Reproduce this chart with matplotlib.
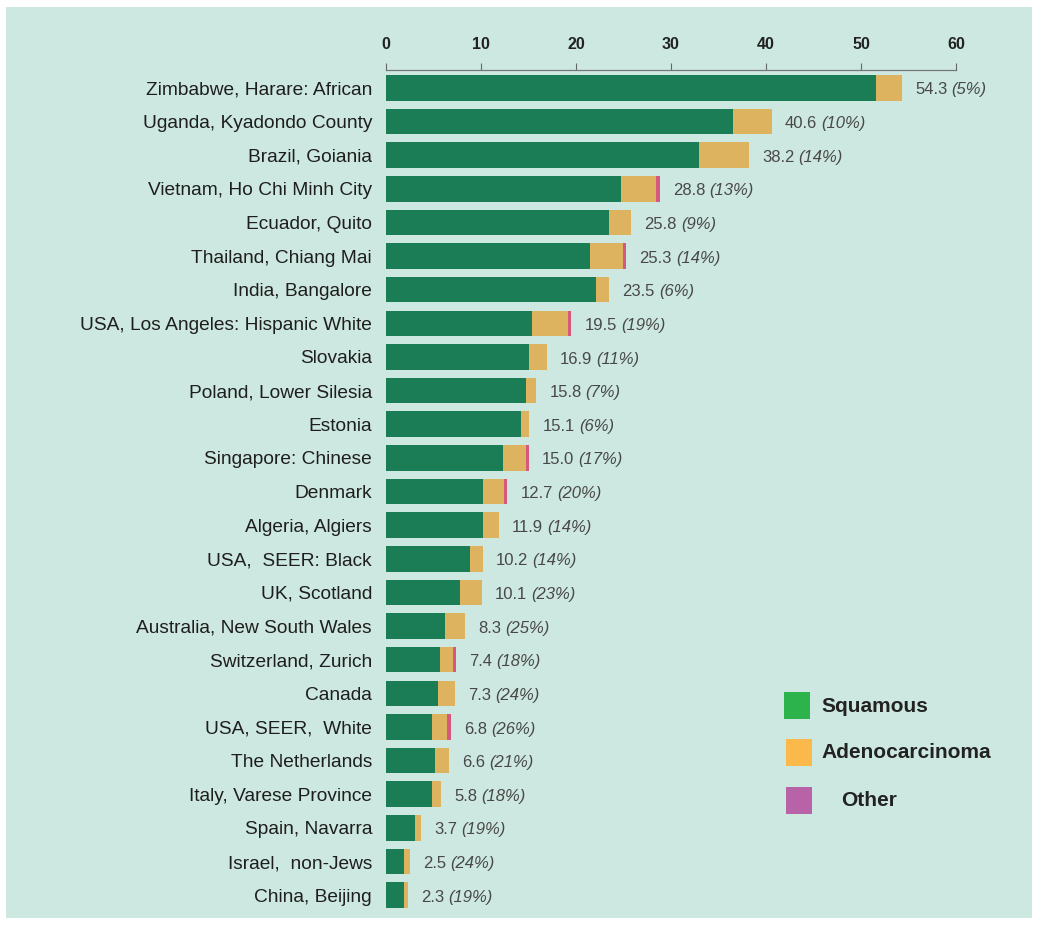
import matplotlib
matplotlib.use("Agg")
import matplotlib.pyplot as plt
from matplotlib import font_manager
from matplotlib.patches import Rectangle

# registries, top to bottom
registries = [
    "Zimbabwe, Harare: African", "Uganda, Kyadondo County", "Brazil, Goiania",
    "Vietnam, Ho Chi Minh City", "Ecuador, Quito", "Thailand, Chiang Mai",
    "India, Bangalore", "USA, Los Angeles: Hispanic White", "Slovakia",
    "Poland, Lower Silesia", "Estonia", "Singapore: Chinese", "Denmark",
    "Algeria, Algiers", "USA,  SEER: Black", "UK, Scotland",
    "Australia, New South Wales", "Switzerland, Zurich", "Canada",
    "USA, SEER,  White", "The Netherlands", "Italy, Varese Province",
    "Spain, Navarra", "Israel,  non-Jews", "China, Beijing",
]
squamous = [51.6, 36.5, 32.9, 24.7, 23.5, 21.5, 22.1, 15.4, 15.0, 14.7, 14.2,
            12.3, 10.2, 10.2, 8.8, 7.8, 6.2, 5.7, 5.5, 4.8, 5.2, 4.8, 3.0, 1.9, 1.9]
adeno = [2.7, 4.1, 5.3, 3.7, 2.3, 3.4, 1.4, 3.8, 1.9, 1.1, 0.9,
         2.4, 2.2, 1.7, 1.4, 2.3, 2.1, 1.3, 1.8, 1.6, 1.4, 1.0, 0.7, 0.6, 0.4]
other = [0, 0, 0, 0.4, 0, 0.4, 0, 0.3, 0, 0, 0,
         0.3, 0.35, 0, 0, 0, 0, 0.4, 0, 0.4, 0, 0, 0, 0, 0]
totals = ["54.3", "40.6", "38.2", "28.8", "25.8", "25.3", "23.5", "19.5", "16.9",
          "15.8", "15.1", "15.0", "12.7", "11.9", "10.2", "10.1", "8.3", "7.4",
          "7.3", "6.8", "6.6", "5.8", "3.7", "2.5", "2.3"]
adeno_pct = ["5%", "10%", "14%", "13%", "9%", "14%", "6%", "19%", "11%", "7%",
             "6%", "17%", "20%", "14%", "14%", "23%", "25%", "18%", "24%",
             "26%", "21%", "18%", "19%", "24%", "19%"]
legend_labels = ["Squamous", "Adenocarcinoma", "Other"]
xticks = [0, 10, 20, 30, 40, 50, 60]

BG = "#cde8e0"
bar_colors = ["#1b7d56", "#deb35f", "#d6587c"]
legend_colors = ["#2db34b", "#fbb94b", "#b862a8"]

names = {f.name for f in font_manager.fontManager.ttflist}
FONT = "Liberation Sans" if "Liberation Sans" in names else "DejaVu Sans"
plt.rcParams["font.family"] = [FONT, "DejaVu Sans"]

fig = plt.figure(figsize=(10.4, 9.25), dpi=100)
fig.patch.set_facecolor("white")
fig.patches.append(Rectangle((6 / 1040, 7 / 925), 1026 / 1040, 911 / 925,
                             transform=fig.transFigure, facecolor=BG,
                             edgecolor="none", zorder=-5))

ax = fig.add_axes([386 / 1040, 13 / 925, 570 / 1040, 842 / 925])
ax.set_zorder(2)
ax.patch.set_alpha(0)

y = list(range(len(registries)))
left2 = [s + a for s, a in zip(squamous, adeno)]
ax.barh(y, squamous, height=0.76, color=bar_colors[0], zorder=2)
ax.barh(y, adeno, left=squamous, height=0.76, color=bar_colors[1], zorder=2)
ax.barh(y, other, left=left2, height=0.76, color=bar_colors[2], zorder=2)

# value label: total, then the adenocarcinoma share in italics
for i in y:
    end = left2[i] + other[i]
    num = ax.annotate(totals[i], (end, i), xytext=(9.5, -1.5), textcoords="offset points",
                      va="center", ha="left", fontsize=12, color="#484848")
    ax.annotate("(" + adeno_pct[i] + ")", xy=(1, 0.5), xycoords=num,
                xytext=(3, 0), textcoords="offset points", va="center", ha="left",
                fontsize=12, color="#484848", style="italic")

ax.set_xlim(0, 60)
ax.set_ylim(24.5, -0.53)
ax.set_xticks(xticks)
ax.xaxis.tick_top()
ax.tick_params(axis="x", direction="out", length=5, width=0.8, color="#666666",
               labelsize=11.5, pad=8, labelcolor="#222222")
for lab in ax.get_xticklabels():
    lab.set_fontweight("bold")
ax.set_yticks(y)
ax.set_yticklabels(registries, fontsize=13.8, color="#1e1e1e")
ax.tick_params(axis="y", length=0, pad=10)
for side in ["right", "bottom", "left"]:
    ax.spines[side].set_visible(False)
ax.spines["top"].set_color("#777777")
ax.spines["top"].set_linewidth(0.9)

# legend drawn by hand
leg_y = [706, 753, 801]
leg_x = [784, 786, 786]
txt_x = [821, 821, 841]
for lx, ly, tx, c, lab in zip(leg_x, leg_y, txt_x, legend_colors, legend_labels):
    fig.patches.append(Rectangle((lx / 1040, 1 - (ly + 13) / 925), 26 / 1040, 27 / 925,
                                 transform=fig.transFigure, facecolor=c,
                                 edgecolor="none", zorder=3))
    fig.text(tx / 1040, 1 - ly / 925, lab, fontsize=15, fontweight="bold",
             va="center", ha="left", color="#222222")

fig.savefig("out.png", dpi=100, facecolor=fig.get_facecolor())
